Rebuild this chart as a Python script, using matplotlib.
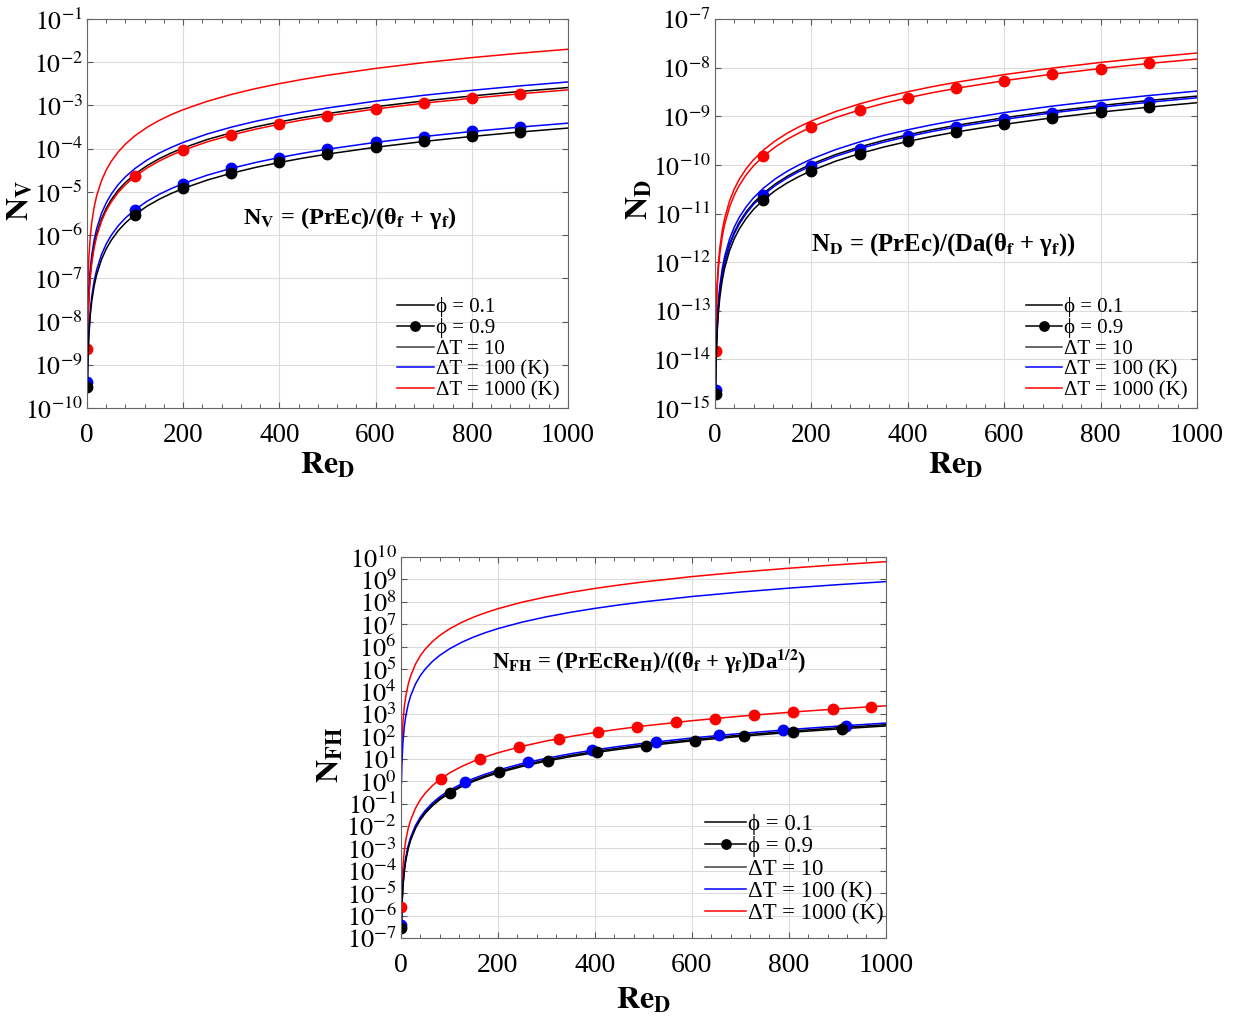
import matplotlib
matplotlib.use('Agg')
import math
import matplotlib.pyplot as plt
from matplotlib.ticker import FixedLocator, MultipleLocator, FuncFormatter, NullLocator
from matplotlib.lines import Line2D

plt.rcParams['font.family'] = ['Liberation Serif', 'DejaVu Serif']
plt.rcParams['mathtext.fontset'] = 'stix'

# ---------------- data ----------------
RE = [1, 2, 4, 7, 10, 15, 20, 30, 40, 50, 65, 80, 100, 125, 150, 175, 200, 250, 300, 350, 400, 450,
      500, 600, 700, 800, 900, 1000]
MARK_IDX = [0, 12, 16, 18, 20, 22, 23, 24, 25, 26]   # markers at Re = 1, 100, 200 ... 900

# N_V (top left)
NV_red_01 = [2.0e-8, 8.0e-8, 3.2e-7, 9.8e-7, 2.0e-6, 4.5e-6, 8.0e-6, 1.8e-5, 3.2e-5, 5.0e-5, 8.45e-5, 1.28e-4,
             2.0e-4, 3.13e-4, 4.5e-4, 6.13e-4, 8.0e-4, 1.25e-3, 1.8e-3, 2.45e-3, 3.2e-3, 4.05e-3, 5.0e-3,
             7.2e-3, 9.8e-3, 1.28e-2, 1.62e-2, 2.0e-2]
NV_blue_01 = [3.5e-9, 1.4e-8, 5.6e-8, 1.72e-7, 3.5e-7, 7.88e-7, 1.4e-6, 3.15e-6, 5.6e-6, 8.75e-6, 1.48e-5, 2.24e-5,
              3.5e-5, 5.47e-5, 7.88e-5, 1.07e-4, 1.4e-4, 2.19e-4, 3.15e-4, 4.29e-4, 5.6e-4, 7.09e-4, 8.75e-4,
              1.26e-3, 1.72e-3, 2.24e-3, 2.84e-3, 3.5e-3]
NV_black_01 = [2.6e-9, 1.04e-8, 4.16e-8, 1.27e-7, 2.6e-7, 5.85e-7, 1.04e-6, 2.34e-6, 4.16e-6, 6.5e-6, 1.1e-5, 1.66e-5,
               2.6e-5, 4.06e-5, 5.85e-5, 7.96e-5, 1.04e-4, 1.63e-4, 2.34e-4, 3.19e-4, 4.16e-4, 5.27e-4, 6.5e-4,
               9.36e-4, 1.27e-3, 1.66e-3, 2.11e-3, 2.6e-3]
NV_red_09 = [2.3e-9, 9.2e-9, 3.68e-8, 1.13e-7, 2.3e-7, 5.18e-7, 9.2e-7, 2.07e-6, 3.68e-6, 5.75e-6, 9.72e-6, 1.47e-5,
             2.3e-5, 3.59e-5, 5.18e-5, 7.04e-5, 9.2e-5, 1.44e-4, 2.07e-4, 2.82e-4, 3.68e-4, 4.66e-4, 5.75e-4,
             8.28e-4, 1.13e-3, 1.47e-3, 1.86e-3, 2.3e-3]
NV_blue_09 = [3.9e-10, 1.56e-9, 6.24e-9, 1.91e-8, 3.9e-8, 8.78e-8, 1.56e-7, 3.51e-7, 6.24e-7, 9.75e-7, 1.65e-6, 2.5e-6,
              3.9e-6, 6.09e-6, 8.78e-6, 1.19e-5, 1.56e-5, 2.44e-5, 3.51e-5, 4.78e-5, 6.24e-5, 7.9e-5, 9.75e-5,
              1.4e-4, 1.91e-4, 2.5e-4, 3.16e-4, 3.9e-4]
NV_black_09 = [3.0e-10, 1.2e-9, 4.8e-9, 1.47e-8, 3.0e-8, 6.75e-8, 1.2e-7, 2.7e-7, 4.8e-7, 7.5e-7, 1.27e-6, 1.92e-6,
               3.0e-6, 4.69e-6, 6.75e-6, 9.19e-6, 1.2e-5, 1.88e-5, 2.7e-5, 3.68e-5, 4.8e-5, 6.08e-5, 7.5e-5,
               1.08e-4, 1.47e-4, 1.92e-4, 2.43e-4, 3.0e-4]

# N_D (top right)
ND_red_01 = [2.0e-14, 8.0e-14, 3.2e-13, 9.8e-13, 2.0e-12, 4.5e-12, 8.0e-12, 1.8e-11, 3.2e-11, 5.0e-11, 8.45e-11,
             1.28e-10, 2.0e-10, 3.13e-10, 4.5e-10, 6.13e-10, 8.0e-10, 1.25e-9, 1.8e-9, 2.45e-9, 3.2e-9, 4.05e-9,
             5.0e-9, 7.2e-9, 9.8e-9, 1.28e-8, 1.62e-8, 2.0e-8]
ND_red_09 = [1.5e-14, 6.0e-14, 2.4e-13, 7.35e-13, 1.5e-12, 3.38e-12, 6.0e-12, 1.35e-11, 2.4e-11, 3.75e-11, 6.34e-11,
             9.6e-11, 1.5e-10, 2.34e-10, 3.38e-10, 4.59e-10, 6.0e-10, 9.38e-10, 1.35e-9, 1.84e-9, 2.4e-9, 3.04e-9,
             3.75e-9, 5.4e-9, 7.35e-9, 9.6e-9, 1.22e-8, 1.5e-8]
ND_blue_01 = [3.3e-15, 1.32e-14, 5.28e-14, 1.62e-13, 3.3e-13, 7.43e-13, 1.32e-12, 2.97e-12, 5.28e-12, 8.25e-12,
              1.39e-11, 2.11e-11, 3.3e-11, 5.16e-11, 7.43e-11, 1.01e-10, 1.32e-10, 2.06e-10, 2.97e-10, 4.04e-10,
              5.28e-10, 6.68e-10, 8.25e-10, 1.19e-9, 1.62e-9, 2.11e-9, 2.67e-9, 3.3e-9]
ND_black_01 = [2.6e-15, 1.04e-14, 4.16e-14, 1.27e-13, 2.6e-13, 5.85e-13, 1.04e-12, 2.34e-12, 4.16e-12, 6.5e-12,
               1.1e-11, 1.66e-11, 2.6e-11, 4.06e-11, 5.85e-11, 7.96e-11, 1.04e-10, 1.63e-10, 2.34e-10, 3.19e-10,
               4.16e-10, 5.27e-10, 6.5e-10, 9.36e-10, 1.27e-9, 1.66e-9, 2.11e-9, 2.6e-9]
ND_blue_09 = [2.4e-15, 9.6e-15, 3.84e-14, 1.18e-13, 2.4e-13, 5.4e-13, 9.6e-13, 2.16e-12, 3.84e-12, 6.0e-12,
              1.01e-11, 1.54e-11, 2.4e-11, 3.75e-11, 5.4e-11, 7.35e-11, 9.6e-11, 1.5e-10, 2.16e-10, 2.94e-10,
              3.84e-10, 4.86e-10, 6.0e-10, 8.64e-10, 1.18e-9, 1.54e-9, 1.94e-9, 2.4e-9]
ND_black_09 = [1.9e-15, 7.6e-15, 3.04e-14, 9.31e-14, 1.9e-13, 4.28e-13, 7.6e-13, 1.71e-12, 3.04e-12, 4.75e-12,
               8.03e-12, 1.22e-11, 1.9e-11, 2.97e-11, 4.28e-11, 5.82e-11, 7.6e-11, 1.19e-10, 1.71e-10, 2.33e-10,
               3.04e-10, 3.85e-10, 4.75e-10, 6.84e-10, 9.31e-10, 1.22e-9, 1.54e-9, 1.9e-9]

# N_FH (bottom)
NFH_red_01 = [6.2, 49.6, 397, 2.13e3, 6.2e3, 2.09e4, 4.96e4, 1.67e5, 3.97e5, 7.75e5, 1.7e6, 3.17e6, 6.2e6,
              1.21e7, 2.09e7, 3.32e7, 4.96e7, 9.69e7, 1.67e8, 2.66e8, 3.97e8, 5.65e8, 7.75e8, 1.34e9, 2.13e9,
              3.17e9, 4.52e9, 6.2e9]
NFH_blue_01 = [0.8, 6.4, 51.2, 274, 800, 2.7e3, 6.4e3, 2.16e4, 5.12e4, 1.0e5, 2.2e5, 4.1e5, 8.0e5, 1.56e6, 2.7e6,
               4.29e6, 6.4e6, 1.25e7, 2.16e7, 3.43e7, 5.12e7, 7.29e7, 1.0e8, 1.73e8, 2.74e8, 4.1e8, 5.83e8, 8.0e8]
NFH_red_09 = [2.3e-6, 1.84e-5, 1.47e-4, 7.89e-4, 2.3e-3, 7.76e-3, 1.84e-2, 6.21e-2, 0.147, 0.288, 0.632, 1.18,
              2.3, 4.49, 7.76, 12.3, 18.4, 35.9, 62.1, 98.6, 147, 210, 288, 497, 789, 1178, 1677, 2300]
NFH_blue_09 = [3.9e-7, 3.12e-6, 2.5e-5, 1.34e-4, 3.9e-4, 1.32e-3, 3.12e-3, 1.05e-2, 2.5e-2, 4.88e-2, 0.107, 0.2,
               0.39, 0.762, 1.32, 2.09, 3.12, 6.09, 10.5, 16.7, 25.0, 35.5, 48.8, 84.2, 134, 200, 284, 390]
NFH_black_01 = [3.3e-7, 2.64e-6, 2.11e-5, 1.13e-4, 3.3e-4, 1.11e-3, 2.64e-3, 8.91e-3, 2.11e-2, 4.13e-2, 9.06e-2,
                0.169, 0.33, 0.645, 1.11, 1.77, 2.64, 5.16, 8.91, 14.1, 21.1, 30.1, 41.3, 71.3, 113, 169, 241, 330]
NFH_black_09 = [2.9e-7, 2.32e-6, 1.86e-5, 9.95e-5, 2.9e-4, 9.79e-4, 2.32e-3, 7.83e-3, 1.86e-2, 3.63e-2, 7.96e-2,
                0.148, 0.29, 0.566, 0.979, 1.55, 2.32, 4.53, 7.83, 12.4, 18.6, 26.4, 36.3, 62.6, 99.5, 148, 211, 290]

# marker samples on the bottom chart
NFH_red_mk_x = [1, 82, 163, 244, 325, 406, 486, 567, 647, 728, 809, 890, 970]
NFH_red_mk_y = [2.3e-6, 1.27, 9.96, 33.4, 79, 154, 264, 419, 623, 887, 1218, 1621, 2099]
NFH_blue_mk_x = [1, 132, 263, 394, 525, 656, 787, 918]
NFH_blue_mk_y = [3.9e-7, 0.897, 7.09, 23.9, 56.4, 110, 190, 302]
NFH_black_mk_x = [1, 102, 203, 304, 405, 506, 606, 707, 808, 909]
NFH_black_mk_y = [2.9e-7, 0.308, 2.43, 8.15, 19.3, 37.6, 64.5, 102, 153, 218]

LEGEND_LABELS = ['ϕ = 0.1', 'ϕ = 0.9', 'ΔT = 10', 'ΔT = 100 (K)', 'ΔT = 1000 (K)']

RED = '#ff0000'
BLUE = '#0000ff'
BLACK = '#000000'
LW = 1.1
MS = 7.5

# ---------------- figure ----------------
fig = plt.figure(figsize=(12.39, 10.18), dpi=100)

def style_axes(ax, ymin_exp, ymax_exp, xtick_fs, ytick_fs):
    ax.set_yscale('log')
    ax.set_xlim(0, 1000)
    ax.set_ylim(10.0 ** ymin_exp, 10.0 ** ymax_exp)
    ax.xaxis.set_major_locator(MultipleLocator(200))
    ax.xaxis.set_minor_locator(MultipleLocator(40))
    ax.yaxis.set_major_locator(FixedLocator([10.0 ** k for k in range(ymin_exp, ymax_exp + 1)]))
    ax.yaxis.set_minor_locator(NullLocator())
    ax.yaxis.set_major_formatter(FuncFormatter(lambda v, p: r'$10^{%d}$' % round(math.log10(v))))
    ax.xaxis.set_major_formatter(FuncFormatter(lambda v, p: '%d' % v))
    ax.tick_params(which='both', direction='in', top=True, right=True, colors='0.35',
                   labelcolor='black')
    ax.tick_params(which='major', length=4, width=0.8)
    ax.tick_params(which='minor', length=3, width=0.7)
    ax.tick_params(axis='x', labelsize=xtick_fs, pad=11)
    ax.tick_params(axis='y', labelsize=ytick_fs, pad=3)
    ax.grid(True, which='major', color='0.86', linewidth=0.8)
    ax.set_axisbelow(True)
    for s in ax.spines.values():
        s.set_color('0.4')
        s.set_linewidth(0.8)

def add_legend(ax, anchor, fs):
    handles = [Line2D([], [], color=BLACK, lw=LW),
               Line2D([], [], color=BLACK, lw=LW, marker='o', ms=MS * 0.9),
               Line2D([], [], color='0.25', lw=LW),
               Line2D([], [], color=BLUE, lw=LW),
               Line2D([], [], color=RED, lw=LW)]
    ax.legend(handles, LEGEND_LABELS, loc='upper left', bbox_to_anchor=anchor, frameon=False,
              fontsize=fs, handlelength=1.75, handletextpad=0.1, labelspacing=0.05,
              borderpad=0.0, borderaxespad=0.0, numpoints=1)

# ---- top left: N_V
ax1 = fig.add_axes([0.0702, 0.5992, 0.3882, 0.3821])
style_axes(ax1, -10, -1, 19.5, 18.5)
ax1.plot(RE, NV_red_01, color=RED, lw=LW)
ax1.plot(RE, NV_blue_01, color=BLUE, lw=LW)
ax1.plot(RE, NV_black_01, color=BLACK, lw=LW)
ax1.plot(RE, NV_red_09, color=RED, lw=LW, marker='o', ms=MS, markevery=MARK_IDX)
ax1.plot(RE, NV_blue_09, color=BLUE, lw=LW, marker='o', ms=MS, markevery=MARK_IDX)
ax1.plot(RE, NV_black_09, color=BLACK, lw=LW, marker='o', ms=MS, markevery=MARK_IDX)
ax1.set_xlabel(r'$\mathbf{Re_D}$', fontsize=23)
ax1.set_ylabel(r'$\mathbf{N_V}$', fontsize=23)
ax1.xaxis.set_label_coords(0.5, -0.11)
ax1.yaxis.set_label_coords(-0.11, 0.535)
ax1.text(0.547, 0.488, r'N$_\mathbf{V}$ = (PrEc)/(θ$_\mathbf{f}$ + γ$_\mathbf{f}$)', transform=ax1.transAxes,
         ha='center', va='center', fontsize=17.5, fontweight='bold')
add_legend(ax1, (0.645, 0.285), 15)

# ---- top right: N_D
ax2 = fig.add_axes([0.5771, 0.5992, 0.3890, 0.3821])
style_axes(ax2, -15, -7, 19.5, 18.5)
ax2.plot(RE, ND_red_01, color=RED, lw=LW)
ax2.plot(RE, ND_blue_01, color=BLUE, lw=LW)
ax2.plot(RE, ND_black_01, color=BLACK, lw=LW)
ax2.plot(RE, ND_red_09, color=RED, lw=LW, marker='o', ms=MS, markevery=MARK_IDX)
ax2.plot(RE, ND_blue_09, color=BLUE, lw=LW, marker='o', ms=MS, markevery=MARK_IDX)
ax2.plot(RE, ND_black_09, color=BLACK, lw=LW, marker='o', ms=MS, markevery=MARK_IDX)
ax2.set_xlabel(r'$\mathbf{Re_D}$', fontsize=23)
ax2.set_ylabel(r'$\mathbf{N_D}$', fontsize=23)
ax2.xaxis.set_label_coords(0.5, -0.11)
ax2.yaxis.set_label_coords(-0.125, 0.535)
ax2.text(0.473, 0.419, r'N$_\mathbf{D}$ = (PrEc)/(Da(θ$_\mathbf{f}$ + γ$_\mathbf{f}$))', transform=ax2.transAxes,
         ha='center', va='center', fontsize=17.8, fontweight='bold')
add_legend(ax2, (0.645, 0.285), 15)

# ---- bottom: N_FH
ax3 = fig.add_axes([0.3236, 0.0786, 0.3914, 0.3742])
style_axes(ax3, -7, 10, 20, 19)
ax3.plot(RE, NFH_red_01, color=RED, lw=LW)
ax3.plot(RE, NFH_blue_01, color=BLUE, lw=LW)
ax3.plot(RE, NFH_black_01, color=BLACK, lw=LW)
ax3.plot(RE, NFH_red_09, color=RED, lw=LW)
ax3.plot(RE, NFH_blue_09, color=BLUE, lw=LW)
ax3.plot(RE, NFH_black_09, color=BLACK, lw=LW)
ax3.plot(NFH_red_mk_x, NFH_red_mk_y, ls='none', color=RED, marker='o', ms=MS)
ax3.plot(NFH_blue_mk_x, NFH_blue_mk_y, ls='none', color=BLUE, marker='o', ms=MS)
ax3.plot(NFH_black_mk_x, NFH_black_mk_y, ls='none', color=BLACK, marker='o', ms=MS)
ax3.set_xlabel(r'$\mathbf{Re_D}$', fontsize=23)
ax3.set_ylabel(r'$\mathbf{N_{FH}}$', fontsize=23)
ax3.xaxis.set_label_coords(0.5, -0.125)
ax3.yaxis.set_label_coords(-0.115, 0.48)
ax3.text(0.513, 0.724, r'N$_\mathbf{FH}$ = (PrEcRe$_\mathbf{H}$)/((θ$_\mathbf{f}$ + γ$_\mathbf{f}$)Da$^\mathbf{1/2}$)',
         transform=ax3.transAxes, ha='center', va='center', fontsize=16.3, fontweight='bold')
add_legend(ax3, (0.628, 0.325), 16.5)

fig.savefig('out.png', dpi=100)
